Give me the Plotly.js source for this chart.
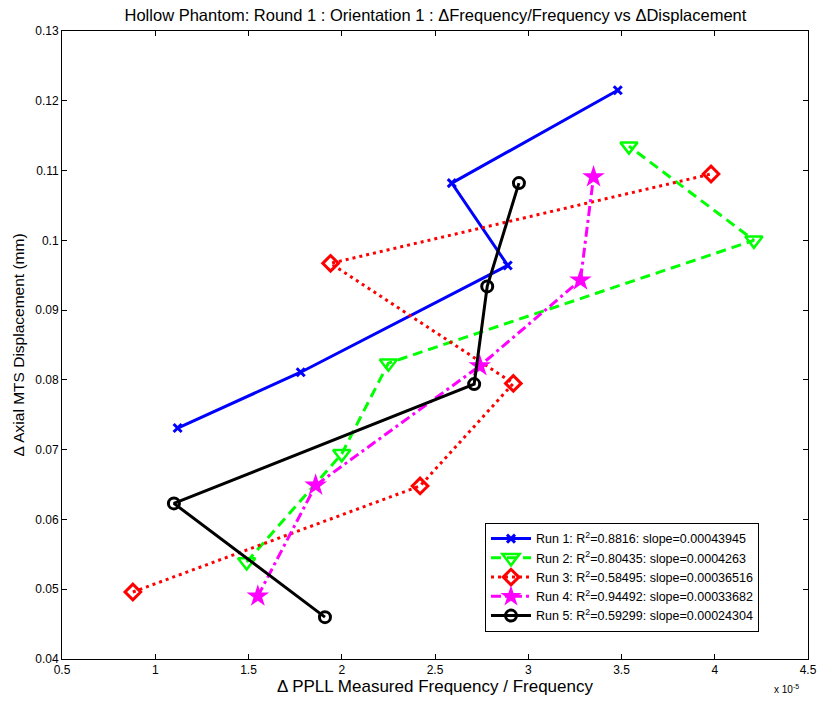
<!DOCTYPE html>
<html><head><meta charset="utf-8">
<script src="https://cdn.plot.ly/plotly-3.0.1.min.js"></script>
<style>html,body{margin:0;padding:0;background:#fff;}#chart{width:817px;height:706px;}</style>
</head><body><div id="chart"></div>
<script>
// x values in units of 1e-5
var run1X = [1.12, 1.78, 2.89, 2.59, 3.48];
var run1Y = [0.0731, 0.0811, 0.0964, 0.1082, 0.1215];
var run2X = [1.49, 2.00, 2.25, 4.21, 3.54];
var run2Y = [0.0539, 0.0694, 0.0824, 0.1000, 0.1135];
var run3X = [0.88, 2.42, 2.92, 1.94, 3.98];
var run3Y = [0.0496, 0.0648, 0.0795, 0.0967, 0.1095];
var run4X = [1.55, 1.86, 2.74, 3.28, 3.35];
var run4Y = [0.0490, 0.0649, 0.0820, 0.0943, 0.1091];
var run5X = [1.91, 1.10, 2.71, 2.78, 2.95];
var run5Y = [0.0460, 0.0623, 0.0794, 0.0934, 0.1082];
var runNames = [
  "Run 1: R<sup>2</sup>=0.8816: slope=0.00043945",
  "Run 2: R<sup>2</sup>=0.80435: slope=0.0004263",
  "Run 3: R<sup>2</sup>=0.58495: slope=0.00036516",
  "Run 4: R<sup>2</sup>=0.94492: slope=0.00033682",
  "Run 5: R<sup>2</sup>=0.59299: slope=0.00024304"
];
var xTicks = [0.5, 1, 1.5, 2, 2.5, 3, 3.5, 4, 4.5];
var yTicks = [0.04, 0.05, 0.06, 0.07, 0.08, 0.09, 0.1, 0.11, 0.12, 0.13];

var traces = [
  {x: run1X, y: run1Y, name: runNames[0], mode: 'lines+markers',
   line: {color: '#0000ff', width: 3, dash: 'solid'},
   marker: {symbol: 'x-thin-open', size: 8, color: '#0000ff', line: {color: '#0000ff', width: 3}}},
  {x: run2X, y: run2Y, name: runNames[1], mode: 'lines+markers',
   line: {color: '#00ff00', width: 3, dash: '10px,6px'},
   marker: {symbol: 'triangle-down-open', size: 15, color: '#00ff00', line: {color: '#00ff00', width: 2.5}}},
  {x: run3X, y: run3Y, name: runNames[2], mode: 'lines+markers',
   line: {color: '#ff0000', width: 3, dash: '3px,4px'},
   marker: {symbol: 'diamond-open', size: 12, color: '#ff0000', line: {color: '#ff0000', width: 3}}},
  {x: run4X, y: run4Y, name: runNames[3], mode: 'lines+markers',
   line: {color: '#ff00ff', width: 3, dash: '10px,4px,3px,4px'},
   marker: {symbol: 'star', size: 17, color: '#ff00ff', line: {width: 0}}},
  {x: run5X, y: run5Y, name: runNames[4], mode: 'lines+markers',
   line: {color: '#000000', width: 3, dash: 'solid'},
   marker: {symbol: 'circle-open', size: 11, color: '#000000', line: {color: '#000000', width: 3}}}
];

var FONT = 'Liberation Sans, Arial, sans-serif';
var axisCommon = {
  showgrid: false, zeroline: false, showline: true, linecolor: '#000', linewidth: 1,
  mirror: 'ticks', ticks: 'inside', ticklen: 5, tickcolor: '#000',
  tickfont: {family: FONT, size: 12, color: '#000'}
};

var layout = {
  width: 817, height: 706,
  paper_bgcolor: '#fff', plot_bgcolor: '#fff',
  margin: {l: 62, r: 9, t: 31, b: 47},
  title: {text: 'Hollow Phantom: Round 1 : Orientation 1 : \u0394Frequency/Frequency vs \u0394Displacement',
          font: {family: FONT, size: 16.5, color: '#000'},
          x: 0.533, xanchor: 'center', y: 0.979, yanchor: 'middle'},
  xaxis: Object.assign({}, axisCommon, {
    range: [0.5, 4.5], tickvals: xTicks, ticktext: xTicks.map(String),
    title: {text: '\u0394 PPLL Measured Frequency / Frequency', standoff: 2,
            font: {family: FONT, size: 17, color: '#000'}}
  }),
  yaxis: Object.assign({}, axisCommon, {
    range: [0.04, 0.13], tickvals: yTicks, ticktext: yTicks.map(String),
    title: {text: '\u0394 Axial MTS Displacement (mm)', standoff: 6,
            font: {family: FONT, size: 15.5, color: '#000'}}
  }),
  legend: {x: 0.567, y: 0.2166, xanchor: 'left', yanchor: 'top',
           bgcolor: '#fff', bordercolor: '#000', borderwidth: 1,
           font: {family: FONT, size: 12.5, color: '#000'},
           tracegroupgap: 0, itemwidth: 40},
  showlegend: true,
  annotations: [{text: 'x 10<sup>-5</sup>', xref: 'paper', yref: 'paper', x: 0.99, y: -0.035,
                 xanchor: 'right', yanchor: 'top', showarrow: false,
                 font: {family: FONT, size: 10, color: '#000'}}]
};

Plotly.newPlot('chart', traces, layout, {displayModeBar: false, staticPlot: true});
</script>
</body></html>
